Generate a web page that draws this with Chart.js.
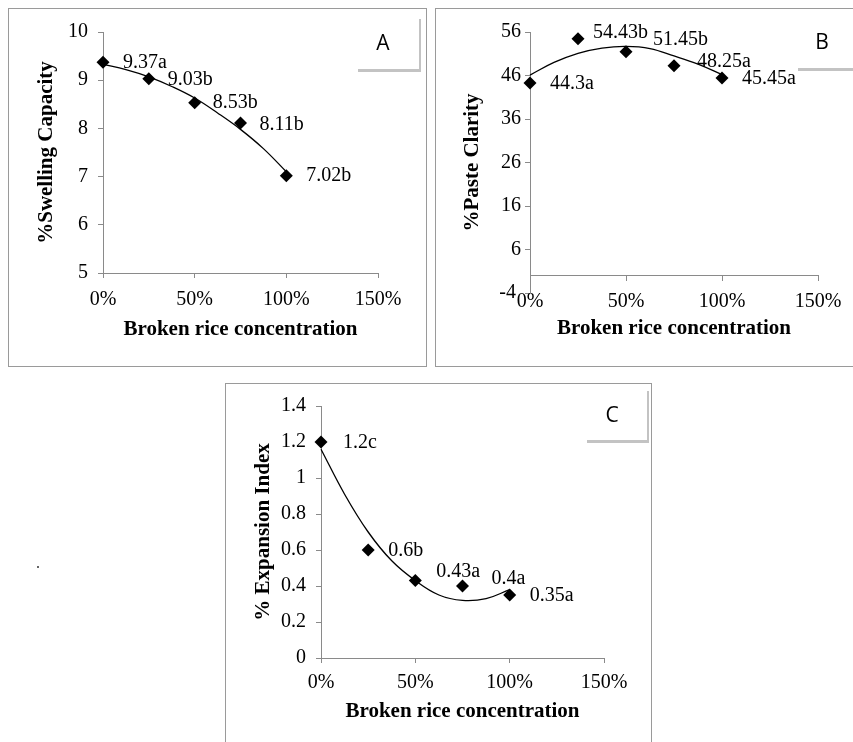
<!DOCTYPE html>
<html lang="en">
<head>
  <meta charset="UTF-8" />
  <title>Broken rice concentration</title>
  <script src="https://cdn.jsdelivr.net/npm/chart.js"></script>
  <style>
    html, body { margin: 0; padding: 0; background: #fff; overflow: hidden; }
    #page { position: relative; width: 853px; height: 742px; overflow: hidden; }
    .panel { position: absolute; border: 1px solid #9a9a9a; background: #fff; }
    .panel canvas { display: block; }
    .tag { position: absolute; font-family: "Open Sans", sans-serif; font-size: 21px; line-height: 1; color: #000; transform: translate(-50%, -50%); }
    .shadow { position: absolute; border-right: 2px solid #c3c3c3; border-bottom: 3px solid #c3c3c3; }
    .dot { position: absolute; left: 37px; top: 566px; width: 2px; height: 2px; background: #666; }
  </style>
</head>
<body>
<div id="page">
  <div class="panel" style="left:8px; top:8px; width:417px; height:357px;"><canvas id="chartA" width="417" height="357"></canvas></div>
  <div class="panel" style="left:435px; top:8px; width:430px; height:357px;"><canvas id="chartB" width="428" height="357"></canvas></div>
  <div class="panel" style="left:225px; top:383px; width:425px; height:362px;"><canvas id="chartC" width="425" height="358"></canvas></div>

  <div class="shadow" style="left:358px; top:19px; width:61px; height:50px;"></div>
  <div class="tag" style="left:383px; top:42px;">A</div>
  <div class="shadow" style="left:798px; top:19px; width:62px; height:49px;"></div>
  <div class="tag" style="left:822px; top:41px;">B</div>
  <div class="shadow" style="left:587px; top:391px; width:60px; height:49px;"></div>
  <div class="tag" style="left:612px; top:414px;">C</div>
  <div class="dot"></div>
</div>

<script>
  // broken rice concentration (%)
  const concentration = [0, 25, 50, 75, 100];
  const xTicks = [0, 50, 100, 150];

  const swelling = [9.37, 9.03, 8.53, 8.11, 7.02];
  const swellingText = ['9.37a', '9.03b', '8.53b', '8.11b', '7.02b'];
  const clarity = [44.3, 54.43, 51.45, 48.25, 45.45];
  const clarityText = ['44.3a', '54.43b', '51.45b', '48.25a', '45.45a'];
  const expansion = [1.2, 0.6, 0.43, 0.4, 0.35];
  const expansionText = ['1.2c', '0.6b', '0.43a', '0.4a', '0.35a'];

  // trend curves
  const trendX = [0, 12.5, 25, 37.5, 50, 62.5, 75, 87.5, 100];
  const swellingTrend = [9.33, 9.22, 9.07, 8.87, 8.63, 8.32, 7.98, 7.58, 7.10];
  const clarityTrend = [46.1, 49.0, 51.1, 52.3, 52.7, 52.2, 50.5, 48.6, 46.2];
  const expansionTrend = [1.16, 0.91, 0.70, 0.54, 0.43, 0.35, 0.32, 0.33, 0.38];

  const serif = "'Liberation Serif', 'Times New Roman', serif";
  const axisGray = '#8a8a8a';

  const pointText = {
    id: 'pointText',
    afterDatasetsDraw(chart, args, opts) {
      const ctx = chart.ctx;
      const pts = chart.getDatasetMeta(0).data;
      ctx.save();
      ctx.font = '20px ' + serif;
      ctx.fillStyle = '#000';
      ctx.textAlign = 'left';
      ctx.textBaseline = 'middle';
      pts.forEach((p, i) => {
        const off = opts.offsets[i];
        ctx.fillText(opts.text[i], p.x + off[0], p.y + off[1]);
      });
      ctx.restore();
    }
  };

  function makeChart(id, cfg) {
    const xAxis = {
      type: 'linear',
      position: cfg.xPos || 'bottom',
      min: 0, max: 150,
      afterBuildTicks: s => { s.ticks = xTicks.map(v => ({ value: v })); },
      ticks: { callback: v => v + '%', padding: cfg.xPad, color: '#000', font: { family: serif, size: 20 }, maxRotation: 0, autoSkip: false },
      grid: { drawOnChartArea: false, drawTicks: true, tickLength: 5, color: axisGray },
      border: { color: axisGray },
      title: { display: !cfg.bottomTitle, text: 'Broken rice concentration', color: '#000', padding: 0, font: { family: serif, size: 21, weight: 'bold' } }
    };
    if (cfg.xH) xAxis.afterFit = s => { s.height = cfg.xH; };

    return new Chart(document.getElementById(id), {
      type: 'scatter',
      data: {
        datasets: [
          {
            data: concentration.map((x, i) => ({ x, y: cfg.values[i] })),
            pointStyle: 'rectRot', pointRadius: 6.5, backgroundColor: '#000', borderWidth: 0, clip: false
          },
          {
            data: trendX.map((x, i) => ({ x, y: cfg.trend[i] })),
            showLine: true, borderColor: '#000', borderWidth: 1.3, pointRadius: 0, tension: 0.4, fill: false, clip: false
          }
        ]
      },
      options: {
        responsive: false,
        animation: false,
        devicePixelRatio: 1,
        layout: { padding: cfg.pad },
        plugins: {
          legend: { display: false },
          tooltip: { enabled: false },
          title: cfg.bottomTitle ? {
            display: true, position: 'bottom', fullSize: false, text: 'Broken rice concentration', color: '#000',
            padding: { top: cfg.bottomTitle, bottom: 0 }, font: { family: serif, size: 21, weight: 'bold' }
          } : { display: false },
          pointText: { text: cfg.text, offsets: cfg.offsets }
        },
        scales: {
          x: xAxis,
          y: {
            min: cfg.yMin, max: cfg.yMax,
            afterFit: s => { s.width = cfg.yW; },
            ticks: { stepSize: cfg.yStep, padding: cfg.yPad, color: '#000', font: { family: serif, size: 20 },
                     callback: v => v === -4 ? '-4 ' : String(Math.round(v * 10) / 10) },
            grid: { drawOnChartArea: false, drawTicks: true, tickLength: 5, color: axisGray },
            border: { color: axisGray },
            title: { display: true, text: cfg.yTitle, color: '#000', padding: 0, font: { family: serif, size: 21, weight: 'bold' } }
          }
        }
      },
      plugins: [pointText]
    });
  }

  makeChart('chartA', {
    values: swelling, trend: swellingTrend, text: swellingText,
    offsets: [[20, 0], [19, 1], [18, 0], [19, 2], [20, 0]],
    yMin: 5, yMax: 10, yStep: 1, yTitle: '%Swelling Capacity',
    pad: { left: 25.4, top: 23, right: 48, bottom: 23.9 }, yW: 68.6, xH: 69.1, xPad: 10, yPad: 10
  });

  makeChart('chartB', {
    values: clarity, trend: clarityTrend, text: clarityText,
    offsets: [[20, 1], [15, -6], [27, -12], [23, -4], [20, 1]],
    yMin: -4, yMax: 56, yStep: 10, yTitle: '%Paste Clarity',
    xPos: { y: 0 }, bottomTitle: 22.9,
    pad: { left: 23.9, top: 23, right: 46, bottom: 24.9 }, yW: 70.1, xPad: 9, yPad: 4
  });

  makeChart('chartC', {
    values: expansion, trend: expansionTrend, text: expansionText,
    offsets: [[22, 1], [20, 1], [21, -9], [29, -7], [20, 1]],
    yMin: 0, yMax: 1.4, yStep: 0.2, yTitle: '% Expansion Index',
    pad: { left: 24.9, top: 22, right: 47, bottom: 17.9 }, yW: 70.1, xH: 66.1, xPad: 8, yPad: 10
  });
</script>
</body>
</html>
